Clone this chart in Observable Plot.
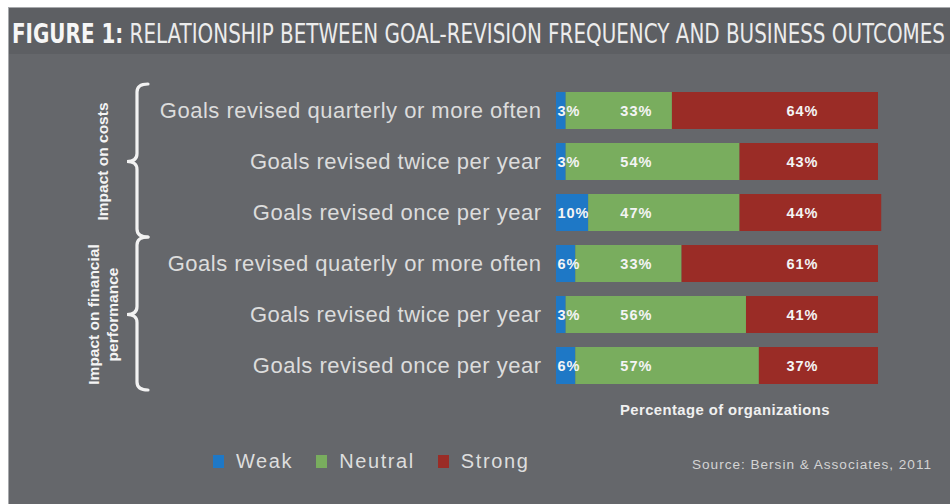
<!DOCTYPE html>
<html><head><meta charset="utf-8">
<script src="https://cdn.jsdelivr.net/npm/d3@7"></script>
<script src="https://cdn.jsdelivr.net/npm/@observablehq/plot@0.6"></script>
<style>
html,body{margin:0;padding:0;background:#fff;width:950px;height:504px;overflow:hidden;font-family:"Liberation Sans",Arial,sans-serif}
#panel{position:absolute;left:8px;top:7px;width:942px;height:497px;background:#65676b;border-top:1px solid #a7a9ac;border-left:1px solid #a7a9ac;box-sizing:border-box}
#band{position:absolute;left:0;top:0;width:100%;height:46px;background:#5d5f63}
.fit{position:absolute;white-space:nowrap;transform-origin:0 0;line-height:1}
#title{left:12px;top:21px;font-family:"Liberation Sans Narrow","DejaVu Sans Condensed",sans-serif;font-size:26px;color:#ececec}
#title b{color:#f6f6f6}
#chart{position:absolute;left:0;top:0;z-index:1}
#xlabel{left:620px;top:403px;font-size:14px;font-weight:bold;color:#f0f0f0;letter-spacing:0.4px}
#legend{position:absolute;left:213px;top:451px;display:flex;align-items:center;z-index:2}
#legend .item{display:flex;align-items:center;margin-right:23px}
#legend .sw{width:11px;height:13px;margin-right:12px}
#legend .lab{font-size:20px;color:#dedede;letter-spacing:1.6px;line-height:1}
#source{left:692px;top:459px;font-size:12.5px;color:#d4d4d4;letter-spacing:0.9px}
</style></head>
<body>
<div id="panel"><div id="band"></div></div>
<div id="title" class="fit" data-w="933"><b>FIGURE 1:</b> RELATIONSHIP BETWEEN GOAL-REVISION FREQUENCY AND BUSINESS OUTCOMES</div>
<div id="chart"></div>
<div id="xlabel" class="fit" data-w="210">Percentage of organizations</div>
<div id="legend"></div>
<div id="source" class="fit" data-w="240">Source: Bersin &amp; Associates, 2011</div>
<script>
// ---- data ----
const groups = ["Impact on costs", "Impact on financial\nperformance"];
const rowGroup = [0, 0, 0, 1, 1, 1];
const rowLabels = [
  "Goals revised quarterly or more often",
  "Goals revised twice per year",
  "Goals revised once per year",
  "Goals revised quaterly or more often",
  "Goals revised twice per year",
  "Goals revised once per year"
];
const levels = ["Weak", "Neutral", "Strong"];
const weak    = [3, 3, 10, 6, 3, 6];
const neutral = [33, 54, 47, 33, 56, 57];
const strong  = [64, 43, 44, 61, 41, 37];
const colors  = ["#1e78c6", "#79ad5e", "#9a2c26"];
// label anchor positions (percent units) for each level's value label
const labelAt = [0.3, 24.8, 76.4];
const labelAnchor = ["start", "middle", "middle"];

const keys = rowLabels.map((l, i) => `${i}|${l}`);
const series = [weak, neutral, strong];
const table = [];
keys.forEach((k, i) => levels.forEach((lv, j) => table.push({row: k, level: lv, li: j, value: series[j][i]})));

const W = 950, H = 504;
const plot = Plot.plot({
  width: W, height: H,
  marginLeft: 556, marginRight: 72, marginTop: 83, marginBottom: 111,
  style: {background: "transparent", fontFamily: "'Liberation Sans', Arial, sans-serif", overflow: "visible"},
  x: {domain: [0, 100], axis: null},
  y: {domain: keys, paddingInner: 0.283, paddingOuter: 0.1415, label: null},
  color: {domain: levels, range: colors},
  marks: [
    Plot.barX(table, Plot.stackX({x: "value", y: "row", fill: "level", order: levels})),
    ...levels.map((lv, j) => Plot.text(table.filter(d => d.li === j), {
      x: () => labelAt[j], y: "row",
      text: d => d.value + "%",
      textAnchor: labelAnchor[j],
      fill: "#f4f4f4", fontSize: 14.5, fontWeight: "bold"
    })),
    Plot.axisY({
      tickSize: 0, tickPadding: 15, fontSize: 22, color: "#dcdcdc",
      tickFormat: k => k.split("|")[1]
    })
  ]
});
document.getElementById("chart").appendChild(plot);

d3.select(plot).selectAll('[aria-label="y-axis tick label"] text').style("letter-spacing", "0.5px");
d3.select(plot).selectAll('[aria-label="text"] text').style("letter-spacing", "1px");
d3.select(plot).selectAll('[aria-label="y-axis tick label"]').attr("fill", "#dcdcdc");

// braces and group labels, positioned with the plot's y scale
const ys = plot.scale("y");
const bw = ys.bandwidth;
const svg = d3.select(plot);
const gBr = svg.append("g").attr("fill", "none").attr("stroke", "#f2f2f2").attr("stroke-width", 3.2).attr("stroke-linecap", "round");
const gLab = svg.append("g").attr("fill", "#f4f4f4").attr("font-weight", "bold").attr("font-size", 15.5);
groups.forEach((g, gi) => {
  const rows = keys.filter((k, i) => rowGroup[i] === gi);
  const y0 = ys.apply(rows[0]) - 8;
  const y1 = ys.apply(rows[rows.length - 1]) + bw + 6;
  const ym = (ys.apply(rows[0]) + ys.apply(rows[rows.length - 1]) + bw) / 2;
  const xt = 148, xl = 137, xp = 127, r = 8;
  const d = `M${xt},${y0} Q${xl},${y0} ${xl},${y0 + r} L${xl},${ym - r} Q${xl},${ym} ${xp},${ym} Q${xl},${ym} ${xl},${ym + r} L${xl},${y1 - r} Q${xl},${y1} ${xt},${y1}`;
  gBr.append("path").attr("d", d);
  const lines = g.split("\n");
  const lh = 19;
  const xc = 103;
  lines.forEach((ln, li) => {
    const x = xc + (li - (lines.length - 1) / 2) * lh;
    gLab.append("text").attr("transform", `translate(${x + 5},${ym}) rotate(-90)`).attr("text-anchor", "middle").text(ln);
  });
});

// legend
const leg = d3.select("#legend");
levels.forEach((lv, i) => {
  const it = leg.append("div").attr("class", "item");
  it.append("div").attr("class", "sw").style("background", colors[i]);
  it.append("div").attr("class", "lab").text(lv);
});

// fit text widths
document.querySelectorAll(".fit").forEach(el => {
  const w = el.getBoundingClientRect().width;
  const t = +el.dataset.w;
  if (w > 0 && t) el.style.transform = `scaleX(${t / w})`;
});
</script>
</body></html>
